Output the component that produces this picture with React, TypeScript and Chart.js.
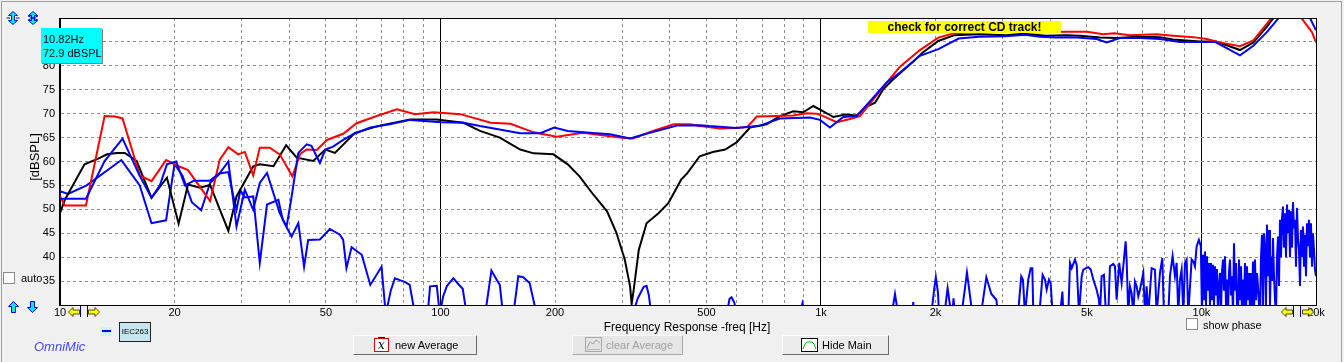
import React, { useEffect, useRef } from "react";
import { Chart, registerables } from "chart.js";

Chart.register(...registerables);

// ---------- axes ----------
const GRID_FREQS = [10, 20, 30, 40, 50, 60, 70, 80, 90, 100, 200, 300, 400, 500, 600, 700, 800, 900, 1000, 2000, 3000, 4000, 5000, 6000, 7000, 8000, 9000, 10000, 20000];
const DECADE_FREQS = [10, 100, 1000, 10000];
const FREQ_TICK_VALUES = [10, 20, 50, 100, 200, 500, 1000, 2000, 5000, 10000, 20000];
const FREQ_TICK_LABELS = ["10", "20", "50", "100", "200", "500", "1k", "2k", "5k", "10k", "20k"];
const DB_MIN = 30;
const DB_MAX = 90;
const DB_STEP = 5;
const DB_TICK_LABELS = [35, 40, 45, 50, 55, 60, 65, 70, 75, 80, 85];

// ---------- red trace ----------
const RED_FREQ = [10, 10.3, 11.7, 13.1, 13.95, 14.6, 16.2, 17.4, 19.0, 20.5, 21.7, 24.8, 26.3, 27.7, 29.4, 30.6, 32.2, 33.5, 35.6, 37.8, 40.8, 42.8, 44.5, 47.3, 50.3, 55.5, 60.2, 68, 76.8, 85.7, 95.8, 112.8, 135.5, 152.8, 175.8, 202, 237, 296, 320, 362, 410, 453, 481, 543, 600, 640, 678, 765, 846, 917, 974, 1014, 1100, 1192, 1266, 1373, 1488, 1613, 1820, 2034, 2235, 2603, 3055, 3763, 4431, 5000, 5520, 5900, 6487, 7623, 8420, 9522, 10320, 11184, 12625, 13690, 14830, 15600, 17000, 18300, 19530, 20000];
const RED_DB = [52.7, 50.8, 50.8, 69.5, 69.4, 69.0, 57.1, 55.9, 60.3, 59.0, 58.2, 51.7, 60.4, 63.0, 61.5, 62.0, 57.1, 62.9, 62.9, 61.5, 56.9, 61.6, 62.5, 62.4, 64.5, 65.8, 68.0, 69.5, 70.9, 69.9, 70.3, 69.9, 68.1, 67.9, 66.1, 65.2, 66.0, 65.0, 64.8, 66.4, 67.8, 67.8, 67.4, 66.9, 67.0, 67.2, 69.4, 69.5, 69.6, 70.1, 70.0, 69.5, 68.2, 68.9, 69.5, 73.0, 76.5, 79.8, 83.3, 85.9, 86.8, 87.0, 87.1, 87.0, 87.1, 87.1, 86.6, 86.8, 86.4, 86.6, 86.3, 86.0, 85.6, 84.9, 84.1, 85.3, 88.7, 91.0, 92.5, 90.0, 87.0, 84.9];

// ---------- black (main) trace ----------
const BLACK_FREQ = [10, 10.3, 11.6, 12.6, 13.3, 14.1, 14.8, 15.9, 17.4, 19.1, 20.5, 21.7, 23.3, 24.8, 27.7, 29.1, 32.2, 33.5, 36.4, 39.3, 41.9, 46.3, 49.8, 52.8, 59.6, 69.2, 83.2, 97.6, 114.9, 127, 143.2, 162, 175.8, 198, 216, 232, 252, 274, 290, 305, 315, 318, 322, 332, 348, 374, 397, 429, 445, 480, 520, 560, 600, 651, 720, 780, 846, 898, 955, 1014, 1078, 1157, 1241, 1319, 1387, 1458, 1549, 1621, 1748, 1852, 2034, 2235, 2603, 3055, 3400, 3900, 4400, 4794, 5410, 6000, 6750, 7779, 8420, 9911, 10900, 11650, 12625, 13690, 14830, 15800, 17500, 19000, 20000];
const BLACK_DB = [49.2, 52.0, 59.4, 60.6, 61.5, 61.8, 61.8, 60.1, 52.4, 56.6, 47.0, 55.2, 54.5, 55.1, 45.5, 52.7, 59.0, 59.4, 59.0, 63.4, 60.8, 60.1, 62.5, 61.8, 66.0, 67.5, 68.8, 68.8, 68.1, 66.4, 65.0, 62.5, 61.7, 61.5, 59.4, 56.9, 53.1, 49.6, 45.1, 39.5, 33.9, 30.2, 33.2, 41.5, 47.1, 49.2, 51.3, 56.2, 57.5, 61.1, 62.0, 62.5, 64.0, 67.1, 67.8, 69.5, 70.5, 70.3, 71.6, 70.5, 69.3, 69.8, 69.6, 71.5, 72.3, 75.1, 77.2, 78.6, 80.9, 82.8, 85.2, 86.4, 86.6, 86.4, 86.7, 86.3, 86.4, 86.3, 85.9, 85.8, 86.1, 86.0, 85.5, 85.1, 85.1, 84.3, 83.3, 84.9, 88.1, 91.0, 93.0, 92.0, 91.0];

// ---------- blue trace ----------
const BLUE_FREQ = [10, 11.7, 13.1, 14.6, 16.2, 17.4, 18.3, 19.1, 20.2, 21.3, 22.5, 24, 24.8, 26.3, 27.7, 29.1, 30.6, 32.2, 33.5, 35.0, 37.8, 39.4, 40.5, 42.3, 44.5, 45.8, 48.2, 49.8, 52.2, 55.5, 59, 65.4, 73.6, 83.2, 100.5, 115, 127, 143, 162, 183, 199, 216, 246, 279, 315, 355, 418, 481, 509, 600, 691, 780, 936, 994, 1056, 1144, 1241, 1346, 1488, 1613, 1820, 2034, 2300, 2603, 3055, 3437, 3763, 4150, 4700, 5300, 5640, 6100, 6900, 7780, 8780, 9911, 10850, 11650, 12625, 13690, 14830, 16082, 17500, 19286, 20000];
const BLUE_DB = [52.2, 52.2, 60.1, 64.8, 57.0, 52.4, 55.0, 59.4, 60.0, 55.0, 56.0, 56.0, 56.0, 57.6, 60.0, 46.4, 54.1, 49.9, 55.5, 57.6, 49.2, 46.4, 52.0, 61.8, 63.6, 63.3, 59.7, 62.5, 63.1, 64.5, 65.7, 67.1, 67.8, 68.7, 68.2, 68.1, 67.4, 66.7, 65.9, 65.9, 67.1, 66.4, 66.0, 65.7, 64.8, 66.0, 67.5, 67.6, 67.4, 67.0, 67.5, 69.0, 69.2, 68.7, 67.1, 69.3, 69.5, 72.6, 76.5, 78.6, 82.1, 83.5, 85.7, 86.1, 86.2, 86.5, 86.1, 85.9, 85.9, 85.6, 84.9, 85.8, 85.8, 85.6, 85.0, 85.0, 85.0, 83.7, 82.2, 84.2, 87.0, 90.3, 92.5, 90.0, 87.4];

// ---------- blue noise trace ----------
const NOISE_FREQ = [
  10, 10.5, 11.75, 14.5, 16.2, 17.4, 19.0, 20.0, 21.0, 22.2,
  23.5, 24.8, 26.3, 27.7, 28.5, 29.1, 29.8, 30.6, 32.2, 33.5,
  35.0, 37.5, 38.5, 40.6, 42.3, 43.8, 44.9, 48.2, 51.2, 54.4,
  55.5, 56.6, 58.4, 62.1, 65.4, 70.0, 71.8, 74, 75.9, 78.2,
  80.8, 83, 85.7, 92.5, 93.9, 97.8, 99.6, 101.6, 104, 108.1,
  111, 114.4, 117.2, 131, 136.1, 140, 143.2, 146, 155.4, 160.1,
  165, 171.5, 179, 320, 330, 342, 348, 353, 358, 565,
  575, 582, 592, 600, 880, 894, 910, 1534, 1565, 1596,
  1740, 1748, 1756, 1950, 1985, 2004, 2030, 2043, 2110, 2152,
  2200, 2215, 2230, 2250, 2340, 2390, 2419, 2450, 2500, 2633,
  2720, 2804, 2890, 2920, 3294, 3360, 3395, 3437, 3506, 3558,
  3593, 3615, 3747, 3824, 3879, 3919, 3974, 4015, 4063, 4250,
  4310, 4336, 4468, 4513, 4560, 4651, 4700, 4766, 4844, 4892,
  4972, 5042, 5116, 5198, 5302, 5378, 5410, 5465, 5542, 5610,
  5690, 5747, 5864, 5924, 5985, 6080, 6168, 6255, 6320, 6358,
  6422, 6487, 6553, 6620, 6686, 6755, 6823, 6892, 7033, 7103,
  7176, 7248, 7398, 7547, 7623, 7779, 7890, 7970, 8182, 8264,
  8398, 8518, 8605, 8692, 8779, 8868, 8959, 9049, 9141, 9234,
  9423, 9522, 9614, 9713, 9845, 9962,
  10032, 10093, 10154, 10216, 10278, 10340, 10403, 10466, 10530, 10594,
  10658, 10723, 10788, 10853, 10919, 10985, 11052, 11119, 11187, 11254,
  11323, 11392, 11461, 11530, 11600, 11671, 11742, 11813, 11885, 11957,
  12029, 12102, 12176, 12250, 12324, 12399, 12474, 12550, 12626, 12703,
  12780, 12857, 12935, 13014, 13093, 13172, 13252, 13333, 13414, 13495,
  13577, 13659, 13742, 13826, 13910, 13994, 14079, 14165, 14251, 14337,
  14424, 14512, 14600, 14689, 14778, 14867, 14958, 15049, 15140, 15232,
  15324, 15417, 15511, 15605, 15700, 15795, 15891, 15987, 16084, 16182,
  16280, 16379, 16478, 16578, 16679, 16780, 16882, 16984, 17087, 17191,
  17295, 17400, 17506, 17612, 17719, 17826, 17935, 18043, 18153, 18263,
  18374, 18485, 18597, 18710, 18824, 18938, 19053, 19168, 19284, 19401,
  19519, 19637, 19756, 19876, 20000,
];
const NOISE_DB = [
  53.8, 53.2, 55.0, 60.3, 55.0, 47.1, 47.7, 59.5, 57.0, 51.5,
  49.8, 55.5, 57.5, 57.8, 53.0, 49.9, 54.0, 52.5, 52.7, 38.8,
  51.0, 52.0, 47.8, 44.3, 47.1, 38.0, 43.6, 43.7, 45.9, 44.7,
  43.6, 37.7, 42.1, 40.5, 34.2, 38.0, 28, 33.0, 35.6, 35.2,
  34.8, 34.2, 28, 28, 33.9, 34.0, 28, 31.8, 34.0, 35.6,
  34.5, 33.4, 28, 28, 37.2, 35.5, 34.2, 28, 28, 36.0,
  35.8, 34.6, 28, 28, 31.4, 33.8, 34.0, 32.0, 28, 28,
  31.3, 31.6, 30.5, 28, 28, 30.4, 28, 28, 32.3, 28,
  28, 30.6, 28, 28, 33.5, 35.8, 32.6, 28, 28, 33.5,
  28, 28, 31.4, 28, 28, 33.5, 36.8, 33.5, 28, 28,
  35.8, 32.3, 31.1, 28, 28, 36.0, 35.3, 28, 35.3, 37.7,
  37.7, 28, 28, 36.3, 35.3, 33.2, 35.3, 34.6, 28, 28,
  32.8, 28, 28, 38.8, 37.7, 39.5, 38.4, 28, 36.0, 37.4,
  37.7, 37.9, 37.4, 35.3, 33.2, 31.1, 28, 36.0, 36.3, 28,
  28, 38.1, 38.6, 38.1, 31.1, 38.8, 34.6, 39.5, 43.3, 39.5,
  28, 33.9, 32.5, 28, 34.9, 33.9, 31.8, 33.2, 36.7, 28,
  33.9, 28, 37.7, 37.4, 28, 36.7, 39.8, 28, 28, 36.0,
  40.2, 36.0, 38.8, 28, 35.3, 37.4, 28, 38.8, 39.5, 28,
  39.5, 39.1, 38.1, 42.3, 43.6, 42.3,
  28, 40.5, 31, 41.2, 30, 40.2, 33, 38.8, 30, 38.8,
  31, 38.4, 30, 38.1, 32, 37.5, 28, 34, 36.7, 28,
  37, 39.5, 33, 40.2, 30, 35.3, 28, 37, 39.5, 32,
  36, 28, 42.9, 33, 38.8, 30, 28, 39.5, 31, 38.1,
  28, 35.3, 30, 38.8, 28, 38.1, 31, 36.7, 28, 36.7,
  30, 39.1, 28, 39.5, 31, 36.7, 33.9, 30, 28, 40,
  44.7, 29, 45.0, 41.9, 30, 46.8, 36, 45.7, 30, 40.2,
  35, 44.0, 36, 31.1, 28, 40, 44.3, 34, 47.8, 40,
  48.2, 50.6, 42, 49.2, 40, 51.0, 45, 49.9, 40, 49.6,
  42, 51.5, 46, 47.8, 38, 50.3, 44, 41.6, 34, 45.7,
  40, 46.4, 38, 44.7, 36, 47.1, 42.3, 47.8, 40, 47.1,
  38, 45.0, 41.6, 37.4, 36,
];

const FONT = '"Liberation Sans", Arial, sans-serif';

const toPoints = (freqs: number[], dbs: number[]) =>
  freqs.map((f, i) => ({ x: f, y: dbs[i] }));

const isDecade = (v: number | undefined) => v !== undefined && DECADE_FREQS.includes(v);

const framePlugin = {
  id: "plotFrame",
  beforeDraw(chart: any) {
    const { ctx, chartArea: a } = chart;
    ctx.save();
    ctx.fillStyle = "#ffffff";
    ctx.fillRect(a.left, a.top, a.right - a.left, a.bottom - a.top);
    ctx.restore();
  },
  afterDraw(chart: any) {
    const { ctx, chartArea: a } = chart;
    ctx.save();
    ctx.strokeStyle = "#000000";
    ctx.lineWidth = 1;
    ctx.setLineDash([]);
    const l = Math.round(a.left) - 0.5;
    const t = Math.round(a.top) + 0.5;
    const r = Math.round(a.right) + 0.5;
    const b = Math.round(a.bottom) + 0.5;
    ctx.strokeRect(l, t, r - l, b - t);
    ctx.restore();
  },
};

function lineDs(label: string, freqs: number[], dbs: number[], color: string) {
  return {
    label,
    data: toPoints(freqs, dbs),
    borderColor: color,
    backgroundColor: color,
    borderWidth: 2,
    pointRadius: 0,
    tension: 0,
    fill: false,
    clip: 0,
  };
}

const abs = (o: React.CSSProperties): React.CSSProperties => ({ position: "absolute", ...o });

function YellowArrow({ dir, left, top }: { dir: "left" | "right"; left: number; top: number }) {
  const pts = dir === "left"
    ? "0.5,5 5,0.5 5,3 11.5,3 11.5,7 5,7 5,9.5"
    : "11.5,5 7,0.5 7,3 0.5,3 0.5,7 7,7 7,9.5";
  return (
    <svg style={abs({ left, top })} width={12} height={10} viewBox="0 0 12 10">
      <polygon points={pts} fill="#ffff00" stroke="#3a3a00" strokeWidth={0.9} />
    </svg>
  );
}

function Bar({ left }: { left: number }) {
  return <div style={abs({ left, top: 306, width: 1, height: 11, background: "#000080" })} />;
}

function VArrow({ left, top, up }: { left: number; top: number; up: boolean }) {
  const pts = up
    ? "5.5,0.5 10.5,5.5 7.5,5.5 7.5,11.5 3.5,11.5 3.5,5.5 0.5,5.5"
    : "5.5,11.5 10.5,6.5 7.5,6.5 7.5,0.5 3.5,0.5 3.5,6.5 0.5,6.5";
  return (
    <svg style={abs({ left, top })} width={11} height={12} viewBox="0 0 11 12">
      <polygon points={pts} fill="#00e8e8" stroke="#0000d0" strokeWidth={1} />
    </svg>
  );
}

function ZoomIcon({ left, cross }: { left: number; cross: boolean }) {
  return (
    <svg style={abs({ left, top: 11 })} width={14} height={14} viewBox="0 0 14 14">
      <polygon points="7,0.5 11.5,4.5 8.5,4.5 8.5,9.5 11.5,9.5 7,13.5 2.5,9.5 5.5,9.5 5.5,4.5 2.5,4.5"
        fill="#00e8e8" stroke="#0000d0" strokeWidth={0.9} />
      {cross ? (
        <>
          <line x1={2} y1={5} x2={12} y2={9} stroke="#0000d0" strokeWidth={1} />
          <line x1={2} y1={9} x2={12} y2={5} stroke="#0000d0" strokeWidth={1} />
        </>
      ) : (
        <>
          <line x1={0.5} y1={7} x2={4} y2={7} stroke="#0000d0" strokeWidth={1} />
          <line x1={10} y1={7} x2={13.5} y2={7} stroke="#0000d0" strokeWidth={1} />
        </>
      )}
    </svg>
  );
}

function CheckBox({ left, top }: { left: number; top: number }) {
  return (
    <div style={abs({ left, top, width: 12, height: 12, boxSizing: "border-box", background: "#ffffff", border: "1px solid #8a8a8a" })} />
  );
}

const buttonStyle = (left: number, width: number, disabled = false): React.CSSProperties => ({
  position: "absolute",
  left,
  top: 335,
  width,
  height: 20,
  boxSizing: "border-box",
  background: disabled ? "#e6e6e6" : "#ececec",
  borderStyle: "solid",
  borderWidth: 1,
  borderColor: disabled ? "#f8f8f8 #a8a8a8 #a8a8a8 #f8f8f8" : "#fdfdfd #6a6a6a #6a6a6a #fdfdfd",
  color: disabled ? "#a0a0a0" : "#000000",
  fontSize: 11,
  lineHeight: "18px",
  whiteSpace: "nowrap",
});

export default function App() {
  const canvasRef = useRef<HTMLCanvasElement | null>(null);

  useEffect(() => {
    const canvas = canvasRef.current;
    if (!canvas) return;
    Chart.defaults.font.family = FONT;
    Chart.defaults.color = "#000000";
    const chart = new Chart(canvas, {
      type: "line",
      data: {
        datasets: [
          lineDs("blue", BLUE_FREQ, BLUE_DB, "#0000ff"),
          lineDs("red", RED_FREQ, RED_DB, "#ff0000"),
          lineDs("main", BLACK_FREQ, BLACK_DB, "#000000"),
          lineDs("noise", NOISE_FREQ, NOISE_DB, "#0000ff"),
        ] as any,
      },
      options: {
        animation: false,
        responsive: false,
        devicePixelRatio: 1,
        events: [],
        layout: { padding: { left: 0, top: 18, right: 28, bottom: 0 }, autoPadding: false } as any,
        plugins: { legend: { display: false }, tooltip: { enabled: false }, title: { display: false } },
        scales: {
          x: {
            type: "logarithmic",
            min: 10,
            max: 20000,
            afterBuildTicks: (s: any) => {
              s.ticks = GRID_FREQS.map((v) => ({ value: v }));
            },
            afterFit: (s: any) => {
              s.height = 57;
            },
            ticks: {
              autoSkip: false,
              maxRotation: 0,
              minRotation: 0,
              padding: 1,
              color: "#000000",
              font: { size: 11, family: FONT },
              callback: (v: any) => {
                const i = FREQ_TICK_VALUES.indexOf(Number(v));
                return i >= 0 ? FREQ_TICK_LABELS[i] : "";
              },
            },
            grid: {
              drawTicks: false,
              lineWidth: 1,
              color: (c: any) => (isDecade(c.tick?.value) ? "#000000" : "#8c8c8c"),
            },
            border: {
              display: true,
              color: "#000000",
              dash: (c: any) => (c.tick && !isDecade(c.tick.value) ? [3, 3] : []),
            },
          } as any,
          y: {
            type: "linear",
            min: DB_MIN,
            max: DB_MAX,
            afterFit: (s: any) => {
              s.width = 60;
            },
            ticks: {
              stepSize: DB_STEP,
              padding: 5,
              color: "#000000",
              font: { size: 11, family: FONT },
              callback: (v: any) => (DB_TICK_LABELS.includes(Number(v)) ? String(v) : ""),
            },
            grid: { drawTicks: false, lineWidth: 1, color: "#8c8c8c" },
            border: {
              display: true,
              color: "#000000",
              dash: (c: any) => (c.tick ? [3, 3] : []),
            },
          } as any,
        },
      },
      plugins: [framePlugin],
    });
    return () => chart.destroy();
  }, []);

  return (
    <div
      style={{
        position: "fixed",
        left: 0,
        top: 0,
        width: 1344,
        height: 362,
        overflow: "hidden",
        background: "#f0f0f0",
        fontFamily: FONT,
        fontSize: 11,
        color: "#000",
      }}
    >
      <div
        style={abs({
          left: 1,
          top: 1,
          width: 1341,
          height: 362,
          boxSizing: "border-box",
          borderTop: "1px solid #a0a0a0",
          borderLeft: "1px solid #a0a0a0",
          borderRight: "1px solid #a0a0a0",
        })}
      />
      <canvas ref={canvasRef} width={1344} height={362} style={abs({ left: 0, top: 0, width: 1344, height: 362 })} />

      {/* top-left zoom icons */}
      <ZoomIcon left={6} cross={false} />
      <ZoomIcon left={26} cross={true} />

      {/* cursor readout */}
      <div
        style={abs({
          left: 41,
          top: 28,
          width: 61,
          height: 35,
          boxSizing: "border-box",
          background: "#00ffff",
          boxShadow: "1px 1px 0 #808080",
          padding: "4px 0 0 2px",
          fontSize: 11,
          lineHeight: "14px",
        })}
      >
        <div>10.82Hz</div>
        <div>72.9 dBSPL</div>
      </div>

      {/* warning label */}
      <div
        style={abs({
          left: 868,
          top: 21,
          width: 193,
          height: 12,
          background: "#ffff00",
          fontWeight: "bold",
          fontSize: 12,
          lineHeight: "12px",
          textAlign: "center",
          whiteSpace: "nowrap",
        })}
      >
        check for correct CD track!
      </div>

      {/* y axis title */}
      <div
        style={abs({
          left: 5,
          top: 150,
          width: 60,
          height: 14,
          lineHeight: "14px",
          textAlign: "center",
          fontSize: 13,
          transform: "rotate(-90deg)",
          transformOrigin: "30px 7px",
          whiteSpace: "nowrap",
        })}
      >
        [dBSPL]
      </div>

      {/* auto checkbox */}
      <CheckBox left={3} top={272} />
      <div style={abs({ left: 21, top: 271, lineHeight: "14px", fontSize: 11 })}>auto</div>

      {/* bottom-left arrows */}
      <VArrow left={8} top={301} up={true} />
      <VArrow left={27} top={301} up={false} />

      {/* x-axis range arrows */}
      <YellowArrow dir="left" left={68} top={307} />
      <Bar left={80} />
      <Bar left={87} />
      <YellowArrow dir="right" left={88} top={307} />
      <YellowArrow dir="left" left={1281} top={307} />
      <Bar left={1293} />
      <Bar left={1300} />
      <YellowArrow dir="right" left={1302} top={307} />

      {/* x axis title */}
      <div style={abs({ left: 487, top: 319, width: 400, lineHeight: "16px", textAlign: "center", fontSize: 12 })}>
        Frequency Response -freq [Hz]
      </div>

      {/* show phase */}
      <CheckBox left={1186} top={318} />
      <div style={abs({ left: 1203, top: 318, lineHeight: "14px", fontSize: 11 })}>show phase</div>

      {/* legend */}
      <div style={abs({ left: 101, top: 327, width: 11, height: 9, background: "#c8f4f8" })}>
        <div style={abs({ left: 1, top: 3, width: 9, height: 2, background: "#0000ff" })} />
      </div>
      <div
        style={abs({
          left: 119,
          top: 322,
          width: 32,
          height: 20,
          boxSizing: "border-box",
          background: "#c6e6ee",
          border: "1px solid #202020",
          fontSize: 8,
          lineHeight: "18px",
          textAlign: "center",
        })}
      >
        IEC263
      </div>

      <div style={abs({ left: 34, top: 340, lineHeight: "14px", fontSize: 13, fontStyle: "italic", color: "#4646ff" })}>
        OmniMic
      </div>

      {/* buttons */}
      <div style={buttonStyle(353, 124)}>
        <div
          style={abs({
            left: 20,
            top: 2,
            width: 15,
            height: 14,
            boxSizing: "border-box",
            border: "1px solid #e00000",
            background: "#ffffff",
            textAlign: "center",
            lineHeight: "12px",
            fontFamily: '"DejaVu Serif", serif',
            fontStyle: "italic",
            fontSize: 12,
            textDecoration: "overline",
          })}
        >
          x
        </div>
        <div style={abs({ left: 41, top: 0 })}>new Average</div>
      </div>

      <div style={buttonStyle(572, 111, true)}>
        <svg style={abs({ left: 12, top: 1 })} width={17} height={15} viewBox="0 0 17 15">
          <rect x={0.5} y={0.5} width={16} height={14} fill="#e4e4e4" stroke="#a8a8a8" />
          <polyline points="2,11 5,5 8,7 11,3 15,6" fill="none" stroke="#a0a0a0" strokeWidth={1} />
          <line x1={2} y1={12.5} x2={15} y2={12.5} stroke="#b8b8b8" />
        </svg>
        <div style={abs({ left: 33, top: 0 })}>clear Average</div>
      </div>

      <div style={buttonStyle(782, 107)}>
        <svg style={abs({ left: 18, top: 2 })} width={17} height={14} viewBox="0 0 17 14">
          <rect x={0.5} y={0.5} width={16} height={13} fill="#ffffff" stroke="#000000" />
          <polyline points="2,11 4,6 6,4 11,4 13,6 15,11" fill="none" stroke="#00c000" strokeWidth={1} />
        </svg>
        <div style={abs({ left: 39, top: 0 })}>Hide Main</div>
      </div>
    </div>
  );
}
